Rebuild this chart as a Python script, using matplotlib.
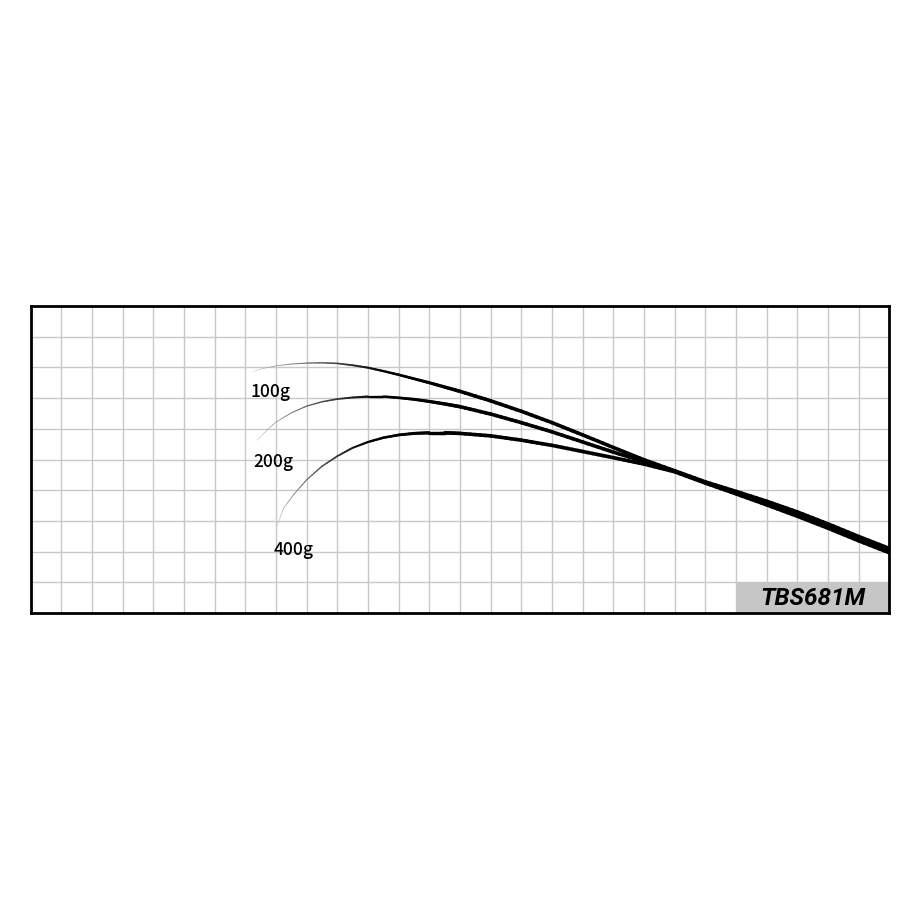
import numpy as np
import matplotlib
matplotlib.use("Agg")
import matplotlib.pyplot as plt
from matplotlib.collections import LineCollection
from matplotlib.patches import Rectangle

# ---------------- data (grid units) ----------------
tail_x = [22, 23, 24, 25, 26, 27, 28]
tail_y = [4.25, 3.92, 3.58, 3.22, 2.83, 2.42, 2.03]

x_100 = [7.25, 7.6, 8, 8.5, 9, 9.5, 10, 10.5, 11, 11.5, 12, 12.5, 13, 13.5, 14, 15, 16, 17, 18, 19, 20, 21]
y_100 = [7.87, 7.97, 8.05, 8.11, 8.14, 8.15, 8.13, 8.07, 7.99, 7.88, 7.76, 7.63, 7.50, 7.36, 7.22, 6.91, 6.57, 6.20, 5.80, 5.39, 4.99, 4.63]

x_200 = [7.38, 7.7, 8, 8.5, 9, 9.5, 10, 10.5, 11, 11.5, 12, 12.5, 13, 13.5, 14, 15, 16, 17, 18, 19, 20, 21]
y_200 = [5.62, 5.95, 6.22, 6.52, 6.74, 6.88, 6.97, 7.02, 7.05, 7.05, 7.01, 6.96, 6.89, 6.81, 6.72, 6.48, 6.20, 5.90, 5.57, 5.24, 4.93, 4.62]

x_400 = [8.03, 8.25, 8.57, 9, 9.5, 10, 10.5, 11, 11.5, 12, 12.5, 13, 13.5, 14, 15, 16, 17, 18, 19, 20, 21]
y_400 = [2.82, 3.42, 3.85, 4.34, 4.78, 5.11, 5.38, 5.57, 5.71, 5.80, 5.85, 5.87, 5.87, 5.85, 5.77, 5.63, 5.46, 5.26, 5.06, 4.85, 4.60]

# small offsets of each curve from the shared tail (the tail is a thick band)
tail_offset = {
    "100g": [0.02, 0.04, 0.06, 0.07, 0.07, 0.07, 0.07],
    "200g": [0.0, 0.0, 0.0, 0.0, 0.0, 0.0, 0.0],
    "400g": [-0.02, -0.04, -0.06, -0.07, -0.07, -0.07, -0.07],
}

labels = ["100g", "200g", "400g"]
label_x = [7.83, 7.92, 8.58]
label_y = [7.06, 4.78, 1.92]

model = "TBS681M"

# ---------------- plotting ----------------
fig = plt.figure(figsize=(9.2, 9.2), dpi=100)
ax = fig.add_axes([30.6 / 920, (920 - 614) / 920, 858.9 / 920, 307 / 920])
ax.set_xlim(0, 28)
ax.set_ylim(0, 10)
ax.set_xticks(np.arange(0, 29, 1))
ax.set_yticks(np.arange(0, 11, 1))
ax.tick_params(length=0, labelbottom=False, labelleft=False)
ax.grid(True, color="#c8c8c8", linewidth=1.0)
ax.set_axisbelow(True)
for s in ax.spines.values():
    s.set_linewidth(2.0)
    s.set_color("black")
    s.set_zorder(10)


def tapered(xs, ys, lw_max=2.6):
    xs = np.asarray(xs, float)
    ys = np.asarray(ys, float)
    # split each piece of the polyline so the width can change smoothly
    px, py = [xs[0]], [ys[0]]
    for i in range(len(xs) - 1):
        for f in np.linspace(0, 1, 7)[1:]:
            px.append(xs[i] + f * (xs[i + 1] - xs[i]))
            py.append(ys[i] + f * (ys[i + 1] - ys[i]))
    pts = np.column_stack([px, py])
    seg = np.stack([pts[:-1], pts[1:]], axis=1)
    d = np.hypot(np.diff(pts[:, 0]), np.diff(pts[:, 1]))
    t = np.cumsum(d) / d.sum()
    k = np.clip(t / 0.32, 0, 1)
    widths = 0.25 + (lw_max - 0.25) * k ** 1.1
    grey = 0.72 * (1 - np.clip(t / 0.2, 0, 1))
    colors = [(g, g, g) for g in grey]
    lc = LineCollection(seg, linewidths=widths, colors=colors, capstyle="round", zorder=3)
    ax.add_collection(lc)


curves = {"100g": (x_100, y_100), "200g": (x_200, y_200), "400g": (x_400, y_400)}
for name, (cx, cy) in curves.items():
    ty = [v + o for v, o in zip(tail_y, tail_offset[name])]
    tapered(list(cx) + tail_x, list(cy) + ty)

for lab, lx, ly in zip(labels, label_x, label_y):
    ax.text(lx, ly, lab, ha="center", va="baseline", fontsize=12.5, fontweight="medium",
            family=["Noto Sans CJK JP", "DejaVu Sans"], zorder=5)

ax.add_patch(Rectangle((23, 0), 5, 1, facecolor="#c6c6c6", edgecolor="none", zorder=4))
ax.text(25.5, 0.5, model, ha="center", va="center", fontsize=17.5,
        fontweight="bold", fontstyle="italic", family="Roboto", zorder=5)

plt.savefig("out.png", dpi=100)
